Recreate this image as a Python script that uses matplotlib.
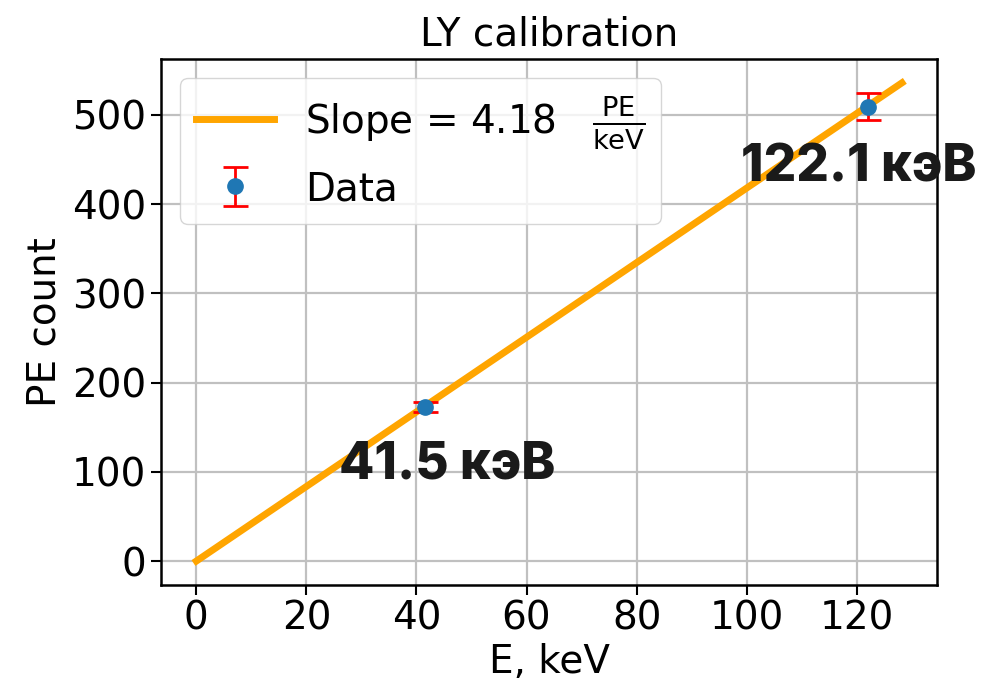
import numpy as np
import matplotlib
matplotlib.use('Agg')
import matplotlib.pyplot as plt

# measured peaks
energy = [41.5, 122.1]          # keV
pe_count = [172.7, 509.0]
pe_err = [5.5, 15.0]
slope = 4.18
peak_labels = ['41.5 кэВ', '122.1 кэВ']
label_pos = [(45.6, 108), (120.4, 441)]

plt.rcParams['font.size'] = 28

fig = plt.figure(figsize=(9.85, 6.85), dpi=100)
ax = fig.add_axes([0.1635, 0.146, 0.788, 0.768])

e_fit = np.linspace(0, 1.05 * max(energy), 50)
ax.plot(e_fit, slope * e_fit, color='orange', lw=5,
        label=r'Slope = %.2f $\ \;\frac{\mathrm{PE}}{\mathrm{keV}}$' % slope)
ax.errorbar(energy, pe_count, yerr=pe_err, fmt='o', color='tab:blue', ms=11,
            ecolor='red', elinewidth=2, capsize=9, capthick=2, label='Data', zorder=3)

for txt, (tx, ty) in zip(peak_labels, label_pos):
    ax.text(tx, ty, txt, ha='center', va='center', fontsize=37,
            fontweight='heavy', family=['Inter', 'DejaVu Sans'], color='#1a1a1a', zorder=5)

ax.set_title('LY calibration', fontsize=28, pad=10)
ax.set_xlabel('E, keV', fontsize=28, labelpad=4)
ax.set_ylabel('PE count', fontsize=28, labelpad=6)
ax.set_xticks([0, 20, 40, 60, 80, 100, 120])
ax.set_yticks([0, 100, 200, 300, 400, 500])
ax.tick_params(labelsize=28, length=7, width=1.5)
ax.grid(color='#c0c0c0', lw=1.6)
for s in ax.spines.values():
    s.set_linewidth(1.8)
ax.legend(loc='upper left', fontsize=28, handlelength=2.0, framealpha=0.8)

fig.savefig('out.png', dpi=100)
